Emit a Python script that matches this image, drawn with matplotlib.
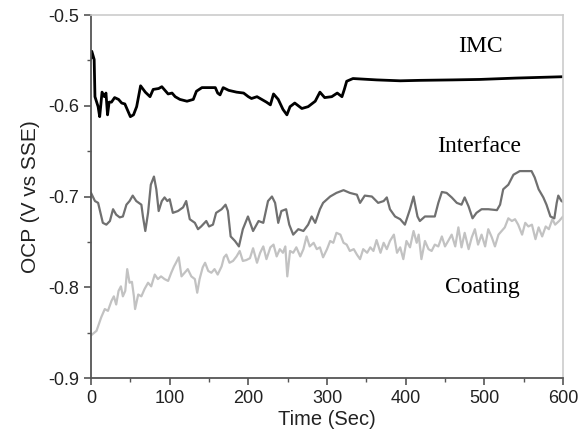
import matplotlib
matplotlib.use("Agg")
import matplotlib.pyplot as plt
from matplotlib.ticker import MultipleLocator

# ==================================
# DATA
# ==================================

imc_t = [0, 1, 4, 5, 9, 11, 14, 17, 19, 21,
         23, 26, 30, 35, 39, 43, 50, 54, 58, 63,
         69, 75, 79, 86, 90, 94, 98, 103, 107, 113,
         122, 130, 134, 141, 149, 158, 161, 164, 168, 175,
         185, 194, 200, 204, 211, 217, 223, 228, 232, 238,
         244, 249, 253, 259, 268, 276, 285, 291, 297, 306,
         313, 319, 322, 325, 333, 363, 393, 418, 460, 494,
         540, 600]
imc_v = [-0.548, -0.540, -0.549, -0.590, -0.601, -0.612, -0.585, -0.590, -0.586, -0.610,
         -0.596, -0.596, -0.591, -0.593, -0.597, -0.598, -0.612, -0.610, -0.601, -0.578,
         -0.585, -0.590, -0.582, -0.581, -0.579, -0.583, -0.587, -0.586, -0.590, -0.593,
         -0.595, -0.593, -0.584, -0.580, -0.580, -0.580, -0.586, -0.588, -0.580, -0.583,
         -0.585, -0.586, -0.590, -0.592, -0.590, -0.593, -0.596, -0.599, -0.587, -0.593,
         -0.604, -0.610, -0.601, -0.597, -0.603, -0.601, -0.595, -0.585, -0.591, -0.590,
         -0.586, -0.590, -0.582, -0.573, -0.570, -0.5715, -0.5725, -0.572, -0.5715, -0.571,
         -0.5695, -0.568]

int_t = [0, 5, 9, 15, 19.5, 24, 28, 32, 36.5, 40.5,
         45, 49, 53, 57.5, 64, 66, 69, 72.5, 76, 80,
         83, 86, 90, 93.5, 97, 100, 104, 110.5, 117, 121,
         125.5, 132, 136, 140, 146.5, 150, 155, 159, 166, 171,
         174, 177.5, 183, 188, 193, 199.5, 206, 213, 219, 225,
         230, 234, 238, 242, 248, 252, 257, 263.5, 270, 276,
         280.5, 285, 291, 295, 304, 312, 321, 329, 338, 342,
         348, 357, 365, 372, 376, 380, 386.5, 393, 399, 405.5,
         410, 415, 418, 424.5, 431, 437, 441.5, 446, 452, 458.5,
         465, 471, 475, 480, 485, 490, 496.5, 505, 516, 520,
         524, 530.5, 537, 545, 554, 560, 564, 569, 575, 579,
         584, 589, 592, 594, 598, 600]
int_v = [-0.696, -0.705, -0.707, -0.729, -0.731, -0.727, -0.714, -0.720, -0.723, -0.722,
         -0.709, -0.705, -0.699, -0.705, -0.709, -0.722, -0.738, -0.718, -0.687, -0.678,
         -0.692, -0.716, -0.705, -0.701, -0.705, -0.703, -0.718, -0.716, -0.712, -0.705,
         -0.725, -0.729, -0.736, -0.733, -0.727, -0.733, -0.731, -0.718, -0.714, -0.709,
         -0.716, -0.744, -0.749, -0.755, -0.736, -0.722, -0.738, -0.727, -0.729, -0.705,
         -0.700, -0.707, -0.729, -0.716, -0.714, -0.731, -0.742, -0.736, -0.738, -0.731,
         -0.722, -0.729, -0.714, -0.707, -0.700, -0.696, -0.693, -0.696, -0.698, -0.707,
         -0.699, -0.700, -0.707, -0.705, -0.701, -0.714, -0.722, -0.725, -0.731, -0.714,
         -0.700, -0.722, -0.727, -0.722, -0.722, -0.722, -0.707, -0.695, -0.696, -0.701,
         -0.707, -0.709, -0.701, -0.711, -0.724, -0.718, -0.714, -0.714, -0.715, -0.709,
         -0.692, -0.687, -0.676, -0.672, -0.672, -0.672, -0.679, -0.692, -0.701, -0.709,
         -0.722, -0.724, -0.707, -0.699, -0.705, -0.706]

coat_t = [0, 7, 13, 17.5, 21.5, 26, 29, 32, 35, 38,
          40.5, 43.5, 46, 49, 52, 54.5, 56, 60, 64, 68,
          72.5, 76.5, 81, 85, 89, 93.5, 98, 102, 105.5, 108,
          111.5, 115, 119, 123, 127.5, 132, 135, 138, 142, 145,
          149, 153, 157, 161, 166, 169, 172, 176, 180.5, 185,
          189, 193, 197.5, 202, 206, 211, 215, 219, 223, 228,
          232, 236, 240, 244, 247, 249.5, 253, 257, 261, 266,
          270, 274, 278, 283, 287, 291, 295, 300, 304, 308,
          312, 317, 321, 325, 329, 334, 338, 342, 346, 351,
          355, 359, 363, 368, 372, 376, 380, 385, 389, 393,
          397, 401, 405.5, 410, 414, 416.5, 420, 424.5, 429, 433,
          437, 441.5, 446, 450, 454, 458.5, 463, 467, 471, 475,
          480, 484, 488, 492, 496.5, 501, 505, 509.5, 513.5, 518,
          522, 526, 530.5, 535, 539, 543, 548, 552, 556, 560.5,
          565, 569, 573.5, 578, 582, 586.5, 590, 595, 600]
coat_v = [-0.853, -0.848, -0.833, -0.824, -0.826, -0.815, -0.810, -0.819, -0.804, -0.799,
          -0.810, -0.804, -0.780, -0.795, -0.794, -0.810, -0.824, -0.808, -0.810, -0.802,
          -0.795, -0.799, -0.786, -0.791, -0.788, -0.791, -0.793, -0.784, -0.777, -0.773,
          -0.767, -0.788, -0.784, -0.780, -0.788, -0.791, -0.806, -0.791, -0.778, -0.773,
          -0.782, -0.784, -0.780, -0.786, -0.777, -0.767, -0.764, -0.773, -0.771, -0.766,
          -0.760, -0.771, -0.770, -0.768, -0.757, -0.773, -0.762, -0.755, -0.769, -0.756,
          -0.753, -0.766, -0.758, -0.762, -0.755, -0.788, -0.760, -0.762, -0.756, -0.766,
          -0.758, -0.744, -0.755, -0.751, -0.758, -0.756, -0.767, -0.758, -0.749, -0.751,
          -0.740, -0.742, -0.751, -0.753, -0.760, -0.758, -0.764, -0.769, -0.758, -0.762,
          -0.756, -0.760, -0.748, -0.762, -0.751, -0.758, -0.749, -0.742, -0.762, -0.756,
          -0.769, -0.749, -0.756, -0.738, -0.751, -0.742, -0.769, -0.749, -0.758, -0.760,
          -0.753, -0.755, -0.744, -0.755, -0.749, -0.742, -0.755, -0.734, -0.756, -0.740,
          -0.758, -0.745, -0.736, -0.753, -0.742, -0.755, -0.736, -0.745, -0.755, -0.742,
          -0.738, -0.734, -0.724, -0.727, -0.725, -0.731, -0.742, -0.729, -0.733, -0.731,
          -0.747, -0.734, -0.744, -0.733, -0.736, -0.725, -0.731, -0.727, -0.722]

# ==================================
# FIGURE
# ==================================

fig = plt.figure(figsize=(5.85, 4.48), dpi=100)
ax = fig.add_axes([0.1556, 0.1562, 0.8068, 0.8103])

line_style = dict(solid_joinstyle="round", solid_capstyle="round")
ax.plot(coat_t, coat_v, color="#c2c2c2", linewidth=1.6, **line_style)
ax.plot(int_t, int_v, color="#707070", linewidth=1.6, **line_style)
ax.plot(imc_t, imc_v, color="black", linewidth=2.0, **line_style)

ax.set_xlim(0, 600)
ax.set_ylim(-0.9, -0.5)

ax.xaxis.set_major_locator(MultipleLocator(100))
ax.xaxis.set_minor_locator(MultipleLocator(50))
ax.yaxis.set_major_locator(MultipleLocator(0.1))
ax.yaxis.set_minor_locator(MultipleLocator(0.05))
ax.yaxis.set_major_formatter(plt.FuncFormatter(lambda v, p: f"{v:.1f}"))

ax.tick_params(which="major", direction="out", length=5, width=1.2,
               color="#555555", labelsize=13, labelcolor="#222222",
               top=False, right=False)
ax.tick_params(which="minor", direction="out", length=3, width=1.0,
               color="#555555", top=False, right=False)
for lab in ax.get_xticklabels() + ax.get_yticklabels():
    lab.set_fontfamily("Liberation Sans")

for side in ["left", "bottom"]:
    ax.spines[side].set_color("#555555")
    ax.spines[side].set_linewidth(1.3)
for side in ["top", "right"]:
    ax.spines[side].set_color("#cccccc")
    ax.spines[side].set_linewidth(1.2)

ax.set_xlabel("Time (Sec)", fontsize=14.5, family="Liberation Sans",
              color="#222222", labelpad=2)
ax.set_ylabel("OCP (V vs SSE)", fontsize=15, family="Liberation Sans",
              color="#222222", labelpad=6)

serif = "Liberation Serif"
ax.text(495, -0.535, "IMC", fontsize=17, family=serif, ha="center", va="center")
ax.text(493, -0.645, "Interface", fontsize=17, family=serif, ha="center", va="center")
ax.text(497, -0.800, "Coating", fontsize=17, family=serif, ha="center", va="center")

fig.savefig("out.png", dpi=100)
